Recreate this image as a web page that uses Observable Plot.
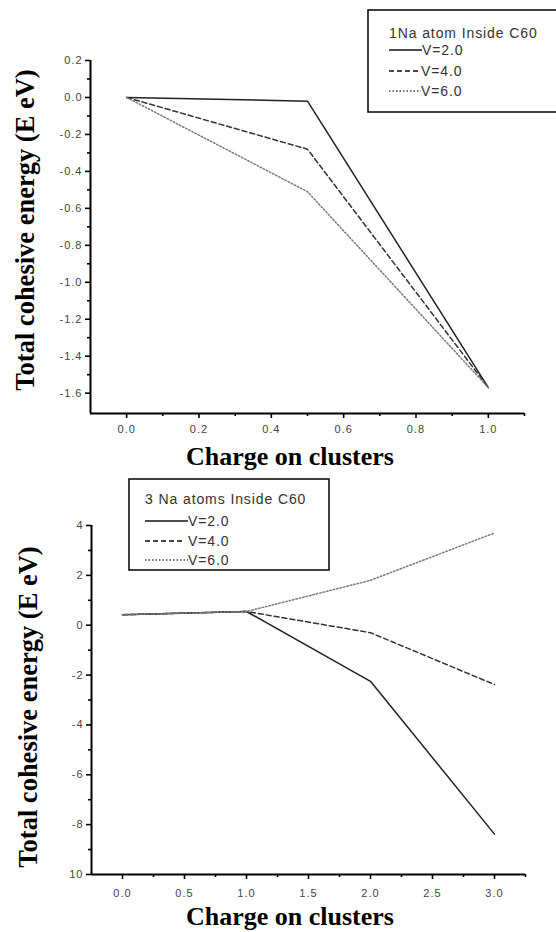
<!DOCTYPE html>
<html><head><meta charset="utf-8">
<script src="https://cdn.jsdelivr.net/npm/d3@7"></script>
<script src="https://cdn.jsdelivr.net/npm/@observablehq/plot@0.6"></script>
<style>
html,body{margin:0;padding:0;background:#fff;}
#root{width:556px;overflow:hidden;}
svg{display:block;}
</style></head><body><div id="root"></div>
<script>
// ---- data ----
const chargeTop = [0.0, 0.5, 1.0];
const topV2 = [0.0, -0.02, -1.57];
const topV4 = [0.0, -0.28, -1.57];
const topV6 = [0.0, -0.51, -1.57];
const chargeBottom = [0, 1, 2, 3];
const botV2 = [0.42, 0.55, -2.25, -8.38];
const botV4 = [0.42, 0.55, -0.30, -2.38];
const botV6 = [0.42, 0.55, 1.80, 3.70];
const seriesNames = ["V=2.0", "V=4.0", "V=6.0"];
const topLegendTitle = "1Na atom Inside C60";
const bottomLegendTitle = "3 Na atoms Inside C60";
const xTitle = "Charge on clusters";
const yTitle = "Total cohesive energy (E eV)";
const topXTicks = [0, 0.2, 0.4, 0.6, 0.8, 1.0];
const topXTickLabels = ["0.0", "0.2", "0.4", "0.6", "0.8", "1.0"];
const topXMinor = [0.1, 0.3, 0.5, 0.7, 0.9, 1.1];
const topYTicks = [0.2, 0, -0.2, -0.4, -0.6, -0.8, -1.0, -1.2, -1.4, -1.6];
const topYTickLabels = ["0.2", "0.0", "-0.2", "-0.4", "-0.6", "-0.8", "-1.0", "-1.2", "-1.4", "-1.6"];
const topYMinor = [0.1, -0.1, -0.3, -0.5, -0.7, -0.9, -1.1, -1.3, -1.5];
const botXTicks = [0, 0.5, 1, 1.5, 2, 2.5, 3];
const botXTickLabels = ["0.0", "0.5", "1.0", "1.5", "2.0", "2.5", "3.0"];
const botXMinor = [0.25, 0.75, 1.25, 1.75, 2.25, 2.75, 3.25];
const botYTicks = [4, 2, 0, -2, -4, -6, -8, -10];
const botYTickLabels = ["4", "2", "0", "-2", "-4", "-6", "-8", "10"];
const botYMinor = [3, 1, -1, -3, -5, -7, -9];
const topXDomain = [-0.1, 1.1], topYDomain = [-1.71, 0.2];
const botXDomain = [-0.25, 3.25], botYDomain = [-10, 4];

// ---- styles ----
const lineStroke = ["#222", "#333", "#7a7a7a"];
const lineDash = [null, "5,3", "1.5,2"];

function rows(xs, ys) { return xs.map((x, i) => ({x, y: ys[i]})); }
function fmt(ticks, labels) { const m = new Map(ticks.map((t, i) => [t, labels[i]])); return d => m.get(d); }

function panel(c) {
  const series = [c.v2, c.v4, c.v6];
  const marks = [
    Plot.ruleX([c.xDomain[0]], {stroke: "#000", strokeWidth: 2}),
    Plot.ruleY([c.yDomain[0]], {stroke: "#000", strokeWidth: 2}),
    Plot.axisX({ticks: c.xTicks, anchor: "bottom", tickSize: 5, tickPadding: c.xPad, strokeWidth: 1.6, tickFormat: fmt(c.xTicks, c.xLabels), label: null}),
    Plot.axisX({ticks: c.xMinor, anchor: "bottom", tickSize: 3, strokeWidth: 1.6, tickFormat: () => "", label: null}),
    Plot.axisY({ticks: c.yTicks, anchor: "left", tickSize: 5, tickPadding: 3, strokeWidth: 1.6, tickFormat: fmt(c.yTicks, c.yLabels), label: null}),
    Plot.axisY({ticks: c.yMinor, anchor: "left", tickSize: 3, strokeWidth: 1.6, tickFormat: () => "", label: null}),
    ...series.map((s, i) => Plot.line(rows(c.xs, s), {x: "x", y: "y", stroke: lineStroke[i], strokeWidth: 1.5, strokeDasharray: lineDash[i]}))
  ];
  const svg = Plot.plot({
    width: 556, height: 466,
    marginLeft: c.ml, marginRight: c.mr, marginTop: c.mt, marginBottom: c.mb,
    x: {domain: c.xDomain, label: null},
    y: {domain: c.yDomain, label: null},
    style: {fontFamily: "'Liberation Sans', Arial, sans-serif", fontSize: "11px", background: "#fff", overflow: "visible"},
    marks
  });
  const s = d3.select(svg);
  s.selectAll('g[aria-label$="tick label"]').style("fill", "#444").style("letter-spacing", "1px");
  // axis titles
  s.append("text").text(xTitle)
    .attr("x", c.xt[0]).attr("y", c.xt[1]).attr("text-anchor", "middle")
    .style("font-family", "'Liberation Serif', 'Times New Roman', serif").style("font-weight", "bold").style("font-size", "26px").style("fill", "#000");
  s.append("text").text(yTitle)
    .attr("transform", `translate(${c.yt[0]},${c.yt[1]}) rotate(-90)`).attr("text-anchor", "middle").attr("dy", "0.35em")
    .style("font-family", "'Liberation Serif', 'Times New Roman', serif").style("font-weight", "bold").style("font-size", "26.5px").style("fill", "#000");
  // legend
  const L = c.legend;
  const g = s.append("g").attr("text-anchor", "start").style("font-family", "'Liberation Sans', Arial, sans-serif").style("font-size", "14px").style("letter-spacing", "0.9px");
  g.append("rect").attr("x", L.x).attr("y", L.y).attr("width", L.w).attr("height", L.h).attr("fill", "#fff").attr("stroke", "#111").attr("stroke-width", 1.6);
  g.append("text").text(L.title).attr("x", L.tx).attr("y", L.ty).attr("dy", "0.35em").attr("text-anchor", "start").style("fill", "#333");
  seriesNames.forEach((n, i) => {
    const yy = L.rows[i];
    g.append("line").attr("x1", L.tx).attr("x2", L.tx + L.sample[i]).attr("y1", yy).attr("y2", yy)
      .attr("stroke", i === 2 ? "#444" : "#111").attr("stroke-width", 1.3).attr("stroke-dasharray", lineDash[i]);
    g.append("text").text(n).attr("x", L.tx + L.textOff[i]).attr("y", yy).attr("dy", "0.35em").attr("text-anchor", "start").style("fill", "#333");
  });
  return svg;
}

const root = document.getElementById("root");
root.appendChild(panel({
  xs: chargeTop, v2: topV2, v4: topV4, v6: topV6,
  xDomain: topXDomain, yDomain: topYDomain,
  xTicks: topXTicks, xLabels: topXTickLabels, xMinor: topXMinor,
  yTicks: topYTicks, yLabels: topYTickLabels, yMinor: topYMinor,
  ml: 90, mr: 32, mt: 60, mb: 53, xPad: 7,
  xt: [290, 465], yt: [25, 230],
  legend: {x: 368, y: 10, w: 200, h: 102, title: topLegendTitle, tx: 389, ty: 33, rows: [50, 71, 91], sample: [33, 29, 32], textOff: [33, 32, 32]}
}));
root.appendChild(panel({
  xs: chargeBottom, v2: botV2, v4: botV4, v6: botV6,
  xDomain: botXDomain, yDomain: botYDomain,
  xTicks: botXTicks, xLabels: botXTickLabels, xMinor: botXMinor,
  yTicks: botYTicks, yLabels: botYTickLabels, yMinor: botYMinor,
  ml: 91, mr: 31, mt: 59, mb: 58, xPad: 10,
  xt: [290, 459], yt: [28, 241],
  legend: {x: 129, y: 13, w: 200, h: 91, title: bottomLegendTitle, tx: 145, ty: 33, rows: [55, 75, 94], sample: [43, 38, 43], textOff: [43, 43, 43]}
}));
</script></body></html>
